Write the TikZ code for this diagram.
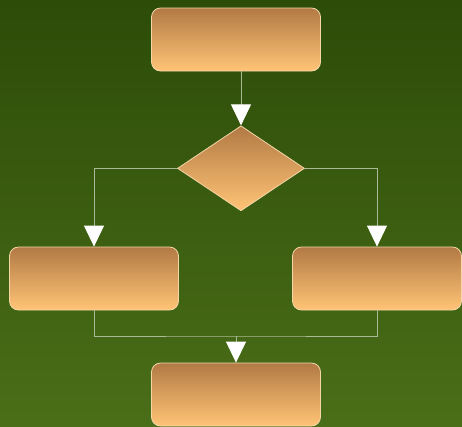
\documentclass[tikz,border=0pt]{standalone}
\usepackage{tikz}
\usetikzlibrary{arrows.meta,positioning,shapes.geometric}

\definecolor{bgtop}{RGB}{44,76,8}
\definecolor{bgbottom}{RGB}{74,110,24}
\definecolor{boxtop}{RGB}{178,122,68}
\definecolor{boxmid}{RGB}{228,164,94}
\definecolor{boxbottom}{RGB}{255,196,118}
\definecolor{boxedge}{RGB}{244,214,168}
\definecolor{flowline}{RGB}{170,186,150}

\begin{document}
\begin{tikzpicture}[x=1pt, y=-1pt,
            box/.style={rectangle, draw=boxedge, line width=0.8pt, rounded corners=9pt,
            top color=boxtop, middle color=boxmid, bottom color=boxbottom,
            minimum width=169pt, minimum height=63pt, inner sep=0pt},
            choice/.style={diamond, draw=boxedge, line width=0.8pt,
            top color=boxtop, middle color=boxmid, bottom color=boxbottom,
            minimum width=127pt, minimum height=85pt, inner sep=0pt},
            flow/.style={draw=flowline, line width=1pt},
            arrowto/.style={flow, -{Triangle[width=20pt, length=21pt, color=white]}}]
            \fill [top color=bgtop, bottom color=bgbottom] (0,0) rectangle (462,426);
            \useasboundingbox (0,0) rectangle (462,426);

            \node (start) [box] at (236,39.5) {};
            \node (decide) [choice, below=54pt of start, xshift=5pt] {};
            \node (left) [box] at (94,278.5) {};
            \node (right) [box] at (377,278.5) {};
            \node (finish) [box] at (236,394.5) {};
            \coordinate (merge) at (236,336);

            \draw [arrowto] (start.south -| decide.north) -- (decide.north);
            \draw [arrowto] (decide.west) -| (left.north);
            \draw [arrowto] (decide.east) -| (right.north);
            \draw [flow] (left.south) |- (merge) -| (right.south);
            \draw [arrowto] (merge) -- (finish.north);
        \end{tikzpicture}
\end{document}
